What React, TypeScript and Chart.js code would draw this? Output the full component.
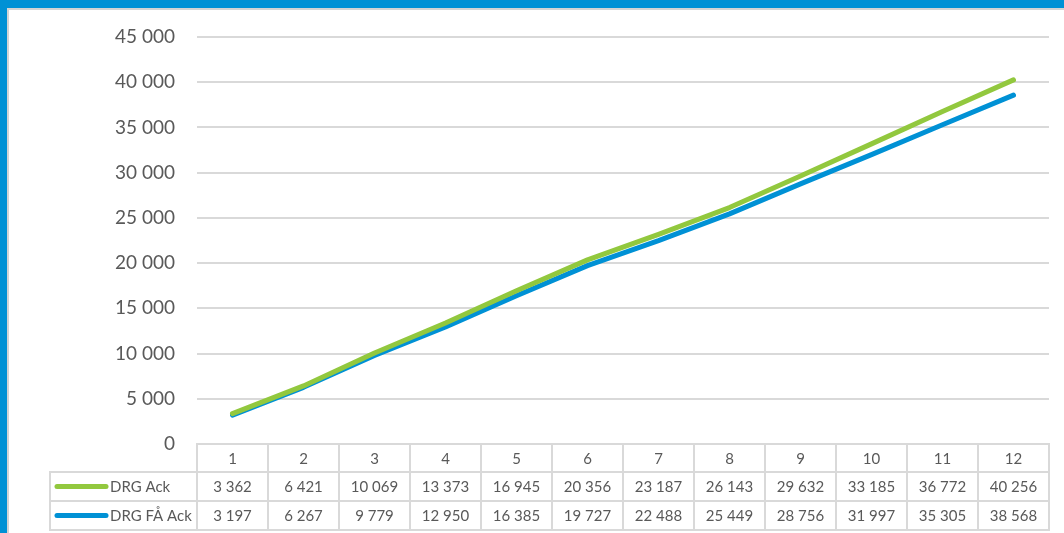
import React, { useEffect, useRef } from "react";
import { Chart, registerables } from "chart.js";

Chart.register(...registerables);

const categories = ["1", "2", "3", "4", "5", "6", "7", "8", "9", "10", "11", "12"];
const seriesNames = ["DRG Ack", "DRG FÅ Ack"];
const drgAck = [3362, 6421, 10069, 13373, 16945, 20356, 23187, 26143, 29632, 33185, 36772, 40256];
const drgFaAck = [3197, 6267, 9779, 12950, 16385, 19727, 22488, 25449, 28756, 31997, 35305, 38568];
const seriesColors = ["#92C83E", "#0091D5"];

const fmt = (v: number) => String(Math.round(v)).replace(/\B(?=(\d{3})+(?!\d))/g, " ");

const FONT = "Lato, 'Open Sans', sans-serif";
const TEXT = "#595959";
const BORDER = "#d9d9d9";

const framePlugin = {
  id: "frame",
  beforeDraw(chart: any) {
    const { ctx, width, height } = chart;
    ctx.save();
    ctx.fillStyle = "#ffffff";
    ctx.fillRect(0, 0, width, height);
    ctx.fillStyle = "#0091D5";
    ctx.fillRect(0, 0, width, 8);
    ctx.fillRect(0, 0, 7, height);
    ctx.fillStyle = "#d4d4d4";
    ctx.fillRect(7, 8, width - 7, 2);
    ctx.fillRect(7, 8, 2, height - 8);
    ctx.restore();
  },
};

const tablePlugin = {
  id: "dataTable",
  afterDraw(chart: any) {
    const { ctx, chartArea, data } = chart;
    const xs = chart.scales.x;
    const n = data.labels.length;
    const colW = (chartArea.right - chartArea.left) / n;
    const top = chartArea.bottom;
    const headerH = 28;
    const rowH = 29;
    const labelLeft = 50;
    ctx.save();
    ctx.strokeStyle = BORDER;
    ctx.lineWidth = 2;
    ctx.beginPath();
    ctx.rect(chartArea.left, top, chartArea.right - chartArea.left, headerH);
    for (let i = 1; i < n; i++) {
      const x = xs.getPixelForValue(i) - colW / 2;
      ctx.moveTo(x, top);
      ctx.lineTo(x, top + headerH + rowH * data.datasets.length);
    }
    const bodyTop = top + headerH;
    const bodyH = rowH * data.datasets.length;
    ctx.rect(labelLeft, bodyTop, chartArea.right - labelLeft, bodyH);
    ctx.moveTo(chartArea.left, bodyTop);
    ctx.lineTo(chartArea.left, bodyTop + bodyH);
    for (let r = 1; r < data.datasets.length; r++) {
      ctx.moveTo(labelLeft, bodyTop + r * rowH);
      ctx.lineTo(chartArea.right, bodyTop + r * rowH);
    }
    ctx.stroke();

    ctx.fillStyle = TEXT;
    ctx.font = `15px ${FONT}`;
    ctx.textAlign = "center";
    ctx.textBaseline = "middle";
    data.labels.forEach((lab: string, i: number) => {
      ctx.fillText(lab, xs.getPixelForValue(i), top + headerH / 2 + 1);
    });
    data.datasets.forEach((ds: any, r: number) => {
      const cy = bodyTop + r * rowH + rowH / 2 + 1;
      ctx.textAlign = "center";
      ds.data.forEach((v: number, i: number) => {
        ctx.fillText(fmt(v), xs.getPixelForValue(i), cy);
      });
      ctx.save();
      ctx.strokeStyle = ds.borderColor;
      ctx.lineWidth = 5;
      ctx.lineCap = "round";
      ctx.beginPath();
      ctx.moveTo(labelLeft + 7, cy - 1);
      ctx.lineTo(labelLeft + 56, cy - 1);
      ctx.stroke();
      ctx.restore();
      ctx.textAlign = "left";
      ctx.fillText(ds.label, labelLeft + 60, cy);
    });
    ctx.restore();
  },
};

export default function App() {
  const ref = useRef<HTMLCanvasElement>(null);
  useEffect(() => {
    if (!ref.current) return;
    const chart = new Chart(ref.current, {
      type: "line",
      data: {
        labels: categories,
        datasets: [
          { label: seriesNames[0], data: drgAck, borderColor: seriesColors[0], backgroundColor: seriesColors[0] },
          { label: seriesNames[1], data: drgFaAck, borderColor: seriesColors[1], backgroundColor: seriesColors[1] },
        ].map((d) => ({
          ...d,
          borderWidth: 5,
          borderCapStyle: "round" as const,
          borderJoinStyle: "round" as const,
          pointRadius: 0,
          tension: 0,
        })),
      },
      options: {
        animation: false,
        responsive: false,
        layout: { padding: { left: 0, right: 15, top: 37, bottom: 89 } },
        plugins: { legend: { display: false }, tooltip: { enabled: false } },
        scales: {
          x: {
            type: "category",
            offset: true,
            grid: { display: false },
            border: { display: false },
            ticks: { display: false },
            afterFit: (s: any) => {
              s.height = 0;
            },
          },
          y: {
            min: 0,
            max: 45000,
            afterFit: (s: any) => {
              s.width = 197;
            },
            ticks: {
              stepSize: 5000,
              padding: 22,
              color: TEXT,
              font: { family: FONT, size: 19 },
              callback: (v: any) => fmt(Number(v)),
            },
            grid: { color: BORDER, lineWidth: 2, drawTicks: false },
            border: { display: false },
          },
        },
      },
      plugins: [framePlugin, tablePlugin],
    });
    return () => chart.destroy();
  }, []);
  return (
    <div style={{ position: "fixed", left: 0, top: 0, width: 1064, height: 533 }}>
      <canvas ref={ref} width={1064} height={533} style={{ width: 1064, height: 533 }} />
    </div>
  );
}
